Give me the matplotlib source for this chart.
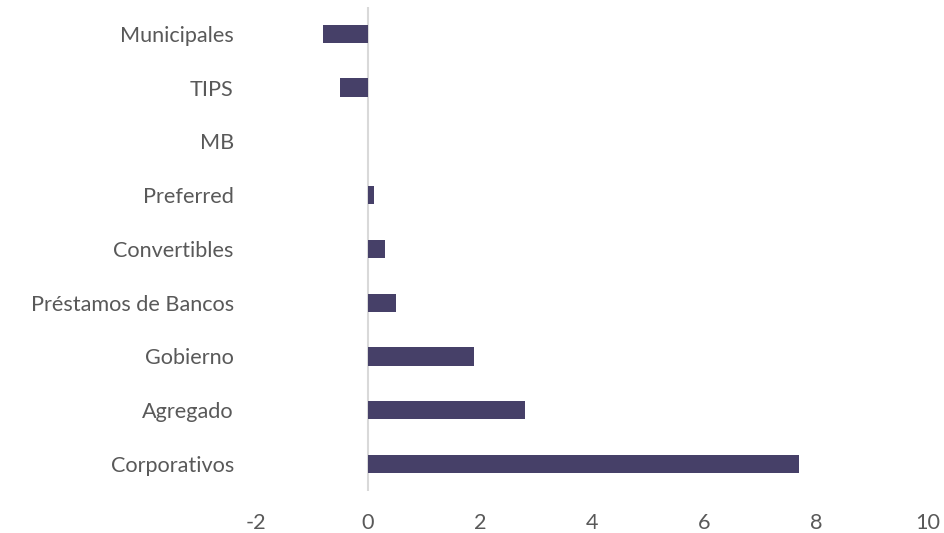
import matplotlib
matplotlib.use("Agg")
import matplotlib.pyplot as plt

categories = ["Corporativos", "Agregado", "Gobierno", "Préstamos de Bancos",
              "Convertibles", "Preferred", "MB", "TIPS", "Municipales"]
values = [7.7, 2.8, 1.9, 0.5, 0.3, 0.1, 0.0, -0.5, -0.8]
xticks = [-2, 0, 2, 4, 6, 8, 10]

plt.rcParams["font.family"] = ["Lato", "DejaVu Sans"]

fig = plt.figure(figsize=(9.45, 5.33), dpi=100)
ax = fig.add_axes([0.271, 0.079, 0.711, 0.908])

ypos = list(range(len(categories)))
ax.barh(ypos, values, height=0.34, color="#464068", zorder=3)

ax.set_xlim(-2, 10)
ax.set_ylim(-0.5, len(categories) - 0.5)
ax.set_xticks(xticks)
ax.set_xticklabels([str(t) for t in xticks])
ax.set_yticks(ypos)
ax.set_yticklabels(categories)

ax.axvline(0, color="#d9d9d9", lw=1.5, zorder=2)
for s in ax.spines.values():
    s.set_visible(False)
ax.tick_params(axis="both", length=0, labelsize=15.6, colors="#595959")
ax.tick_params(axis="x", pad=16)
ax.tick_params(axis="y", pad=16)

fig.savefig("out.png", dpi=100)
